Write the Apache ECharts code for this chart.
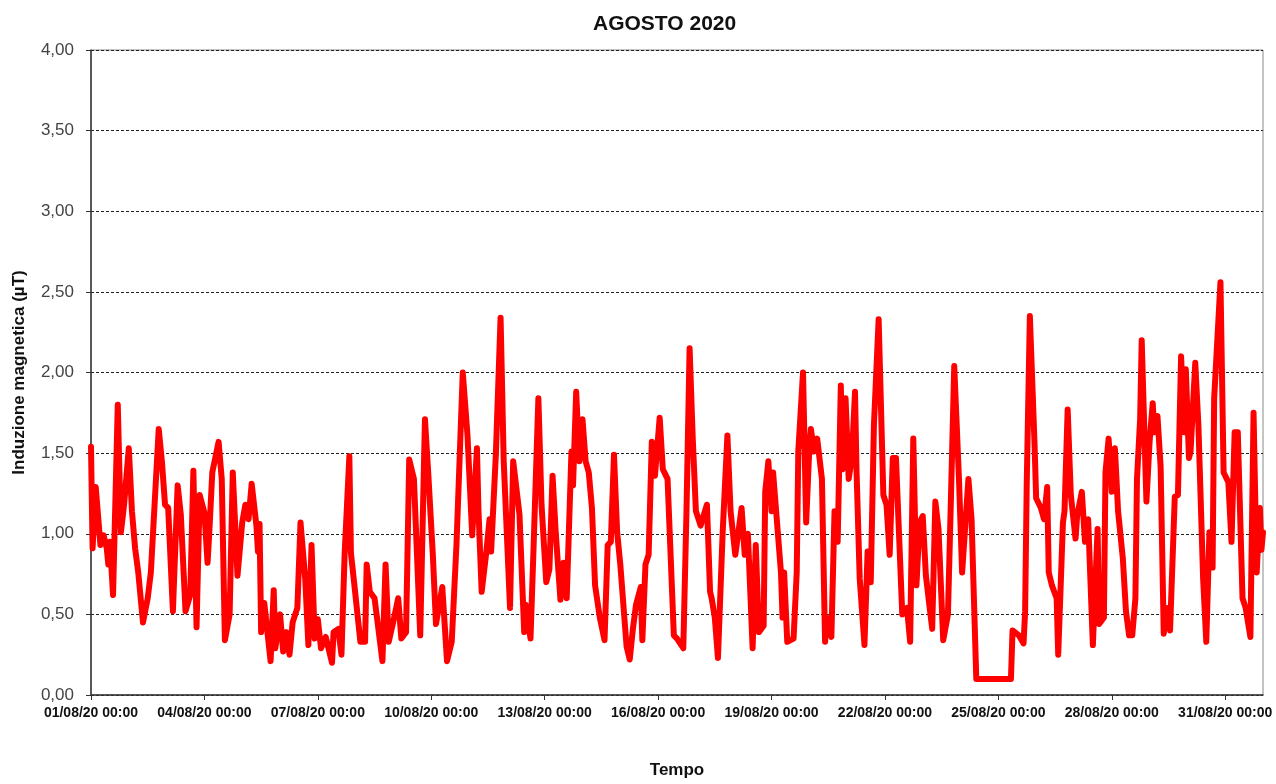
<!DOCTYPE html>
<html lang="it">
  <head>
    <meta charset="UTF-8" />
    <title>Agosto 2020</title>
    <script src="https://cdn.jsdelivr.net/npm/echarts@6/dist/echarts.min.js"></script>
    <style>
      html, body { margin: 0; padding: 0; background: #fff; }
      #main { width: 1276px; height: 784px; }
    </style>
  </head>
  <body>
    <div id="main"></div>
    <script>
      // ore dall'inizio del mese (01/08/20 00:00)
      var hours = [
        0, 1, 3, 6, 8, 10, 11, 12, 14, 17, 19, 21, 24, 26, 28, 30, 33, 34, 36, 38,
        43, 45, 47, 49, 52, 55, 57, 60, 63, 65, 67, 69, 72, 74, 75, 77, 81, 83, 85, 88,
        90, 93, 96, 98, 100, 102, 105, 106, 107, 108, 110, 114, 116, 117, 120, 122, 124, 126, 128, 131,
        133, 136, 138, 140, 142, 144, 146, 149, 153, 154, 157, 159, 161, 164, 165, 167, 171, 174, 175, 177,
        180, 185, 187, 189, 192, 195, 197, 200, 202, 205, 209, 212, 214, 217, 219, 223, 226, 229, 232, 236,
        239, 242, 245, 246, 248, 251, 253, 254, 257, 260, 262, 266, 268, 272, 275, 276, 279, 281, 284, 286,
        289, 291, 293, 295, 298, 300, 302, 305, 306, 308, 310, 312, 314, 316, 318, 320, 323, 326, 328, 330,
        332, 334, 336, 340, 342, 344, 346, 349, 350, 352, 354, 356, 358, 361, 363, 366, 370, 372, 376, 378,
        380, 382, 384, 387, 391, 393, 394, 396, 398, 401, 404, 406, 409, 411, 413, 415, 417, 420, 422, 424,
        427, 428, 430, 432, 433, 438, 439, 440, 442, 446, 448, 449, 452, 454, 456, 457, 459, 461, 464, 466,
        467, 470, 472, 474, 476, 477, 479, 481, 483, 485, 486, 488, 491, 493, 495, 497, 500, 503, 505, 507,
        509, 511, 515, 518, 520, 522, 524, 526, 528, 530, 534, 536, 538, 541, 544, 546, 548, 551, 553, 557,
        559, 562, 584, 585, 589, 592, 593, 594, 596, 599, 600, 603, 605, 607, 608, 610, 613, 614, 617, 618,
        620, 622, 625, 626, 629, 631, 633, 636, 639, 640, 643, 644, 646, 648, 650, 652, 655, 657, 659, 661,
        663, 664, 666, 667, 670, 672, 674, 675, 677, 679, 681, 683, 685, 688, 690, 692, 694, 695, 697, 698,
        701, 703, 706, 708, 710, 712, 713, 717, 719, 722, 724, 726, 728, 731, 733, 736, 738, 740, 742, 743,
        744
      ];
      // induzione magnetica (µT)
      var valori = [
        1.54, 0.91, 1.29, 0.93, 0.99, 0.91, 0.81, 0.95, 0.62, 1.80, 1.01, 1.18, 1.53, 1.14, 0.91, 0.76, 0.45, 0.46, 0.60, 0.76,
        1.65, 1.45, 1.18, 1.16, 0.52, 1.30, 1.12, 0.52, 0.62, 1.39, 0.42, 1.24, 1.13, 0.82, 0.99, 1.38, 1.57, 1.34, 0.34, 0.50,
        1.38, 0.74, 1.07, 1.18, 1.09, 1.31, 1.05, 0.89, 1.06, 0.39, 0.57, 0.21, 0.65, 0.29, 0.50, 0.27, 0.39, 0.25, 0.45, 0.54,
        1.07, 0.72, 0.31, 0.93, 0.35, 0.47, 0.29, 0.36, 0.20, 0.39, 0.41, 0.25, 0.87, 1.48, 0.88, 0.70, 0.33, 0.33, 0.81, 0.64,
        0.60, 0.21, 0.81, 0.33, 0.46, 0.60, 0.35, 0.39, 1.46, 1.34, 0.37, 1.71, 1.39, 0.87, 0.44, 0.67, 0.21, 0.33, 0.93, 2.00,
        1.61, 0.99, 1.53, 1.14, 0.64, 0.89, 1.09, 0.89, 1.49, 2.34, 1.45, 0.54, 1.45, 1.12, 0.39, 0.56, 0.35, 0.93, 1.84, 1.18,
        0.70, 0.78, 1.36, 1.01, 0.59, 0.82, 0.60, 1.51, 1.30, 1.88, 1.45, 1.71, 1.45, 1.38, 1.16, 0.68, 0.48, 0.34, 0.93, 0.95,
        1.49, 1.01, 0.81, 0.30, 0.22, 0.41, 0.56, 0.67, 0.34, 0.81, 0.87, 1.57, 1.36, 1.72, 1.40, 1.34, 0.37, 0.35, 0.29, 1.13,
        2.15, 1.59, 1.14, 1.05, 1.18, 0.64, 0.60, 0.48, 0.23, 1.01, 1.61, 1.14, 0.87, 1.01, 1.16, 0.87, 1.00, 0.29, 0.93, 0.39,
        0.43, 1.26, 1.45, 1.14, 1.38, 0.76, 0.48, 0.76, 0.33, 0.35, 0.76, 1.51, 2.00, 1.07, 1.53, 1.65, 1.51, 1.59, 1.34, 0.33,
        0.48, 0.36, 1.14, 0.95, 1.92, 1.40, 1.84, 1.34, 1.47, 1.88, 1.38, 0.72, 0.31, 0.89, 0.70, 1.67, 2.33, 1.24, 1.18, 0.87,
        1.47, 1.47, 0.50, 0.54, 0.33, 1.59, 0.68, 1.07, 1.11, 0.74, 0.41, 1.20, 1.03, 0.34, 0.50, 1.26, 2.04, 1.34, 0.76, 1.34,
        1.09, 0.10, 0.10, 0.40, 0.37, 0.32, 0.52, 1.30, 2.35, 1.55, 1.22, 1.16, 1.09, 1.29, 0.76, 0.68, 0.60, 0.25, 1.07, 1.14,
        1.77, 1.24, 0.97, 1.11, 1.26, 0.95, 1.09, 0.31, 1.03, 0.44, 0.48, 1.38, 1.59, 1.26, 1.53, 1.14, 0.85, 0.52, 0.37, 0.37,
        0.60, 1.34, 1.71, 2.20, 1.20, 1.57, 1.81, 1.63, 1.73, 1.42, 0.38, 0.54, 0.40, 1.23, 1.24, 2.10, 1.63, 2.02, 1.47, 1.51,
        2.06, 1.67, 0.72, 0.33, 1.01, 0.79, 1.84, 2.56, 1.38, 1.32, 0.95, 1.63, 1.63, 0.60, 0.54, 0.36, 1.75, 0.76, 1.16, 0.90,
        1.01
      ];

      var inizio = Date.UTC(2020, 7, 1, 0, 0);
      function due(n) {
        return (n < 10 ? "0" : "") + n;
      }
      function etichettaData(h) {
        var d = new Date(inizio + h * 3600 * 1000);
        return due(d.getUTCDate()) + "/" + due(d.getUTCMonth() + 1) + "/" +
          due(d.getUTCFullYear() % 100) + " " + due(d.getUTCHours()) + ":" + due(d.getUTCMinutes());
      }

      var punti = [];
      for (var i = 0; i < hours.length; i++) {
        punti.push([hours[i], valori[i]]);
      }

      var font = "'Liberation Sans', Arial, sans-serif";
      var myChart = echarts.init(document.getElementById("main"));
      var option = {
        backgroundColor: "#fff",
        animation: false,
        title: {
          text: "AGOSTO 2020",
          left: 588,
          top: 9,
          textStyle: {
            fontFamily: font,
            fontSize: 21,
            fontWeight: "bold",
            color: "#111",
          },
        },
        grid: {
          left: 91,
          right: 13,
          top: 50,
          bottom: 87,
          show: true,
          borderColor: "#8a8a8a",
          borderWidth: 1,
        },
        xAxis: {
          type: "value",
          min: 0,
          max: 744,
          interval: 72,
          name: "Tempo",
          nameLocation: "middle",
          nameGap: 67,
          nameTextStyle: {
            fontFamily: font,
            fontSize: 17,
            fontWeight: "bold",
            color: "#111",
          },
          axisLine: { lineStyle: { color: "#333", width: 1.5 } },
          axisTick: { show: true, length: 5, lineStyle: { color: "#333" } },
          splitLine: { show: false },
          axisLabel: {
            showMaxLabel: false,
            margin: 11,
            fontFamily: font,
            fontSize: 14,
            fontWeight: "bold",
            color: "#111",
            formatter: function (v) {
              return v % 72 === 0 ? etichettaData(v) : "";
            },
          },
        },
        yAxis: {
          type: "value",
          min: 0,
          max: 4,
          interval: 0.5,
          name: "Induzione magnetica (µT)",
          nameLocation: "middle",
          nameGap: 63,
          nameTextStyle: {
            fontFamily: font,
            fontSize: 17,
            fontWeight: "bold",
            color: "#111",
          },
          axisLine: { show: true, lineStyle: { color: "#333", width: 1.5 } },
          axisTick: { show: true, length: 5, lineStyle: { color: "#333" } },
          splitLine: {
            show: true,
            lineStyle: { color: "#222", type: [3, 2], width: 1 },
          },
          axisLabel: {
            margin: 17,
            fontFamily: font,
            fontSize: 17,
            color: "#444",
            formatter: function (v) {
              return v.toFixed(2).replace(".", ",");
            },
          },
        },
        series: [
          {
            type: "line",
            data: punti,
            showSymbol: false,
            symbol: "none",
            lineStyle: { color: "#ff0000", width: 6, join: "round", cap: "round" },
          },
        ],
      };
      myChart.setOption(option);
    </script>
  </body>
</html>
